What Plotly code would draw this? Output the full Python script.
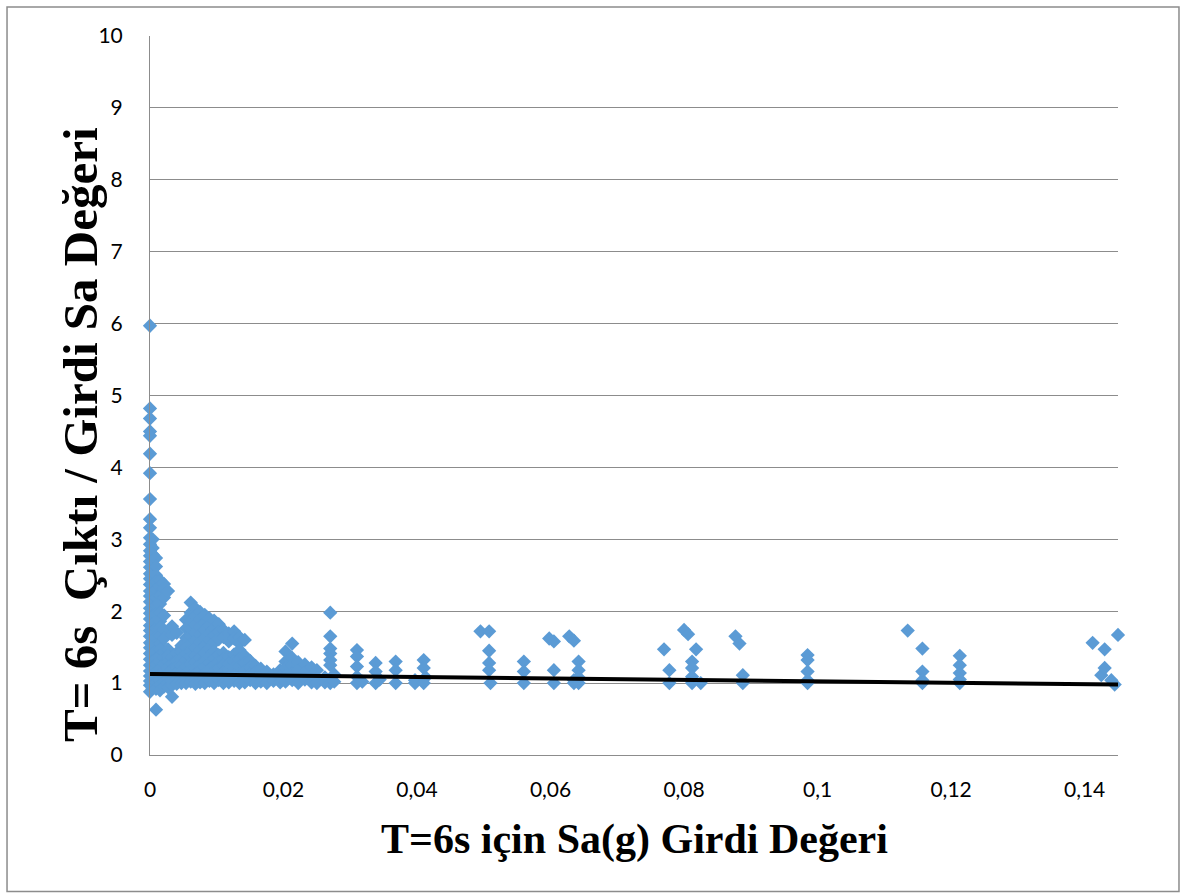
import plotly.graph_objects as go

# --- Sa ratio readings grouped by input Sa (g) ---------------------------
# each entry: (input Sa value, list of output/input ratios at that input)
cluster_origin = [
    (0.0000, [5.97, 4.82, 4.68, 4.50, 4.44, 4.19, 3.92, 3.56, 3.28, 3.16, 3.02, 2.93,
              2.84, 2.77, 2.69, 2.61, 2.52, 2.45, 2.37, 2.28, 2.21, 2.13, 2.04, 1.97,
              1.89, 1.80, 1.73, 1.65, 1.56, 1.49, 1.41, 1.33, 1.25, 1.17, 1.10, 1.03,
              0.97, 0.88]),
    (0.0004, [3.00, 2.88, 2.79, 2.70, 2.58, 2.47, 2.36, 2.25, 2.14, 2.02, 1.93, 1.82,
              1.71, 1.62, 1.51, 1.40, 1.31, 1.22, 1.13, 1.05, 0.99, 0.93]),
    (0.0009, [2.74, 2.62, 2.50, 2.41, 2.30, 2.19, 2.08, 1.96, 1.85, 1.76, 1.64, 1.53,
              1.45, 1.34, 1.26, 1.16, 1.08, 1.01, 0.92, 0.63]),
    (0.0015, [2.43, 2.35, 2.22, 2.10, 1.98, 1.86, 1.77, 1.66, 1.55, 1.47, 1.38, 1.29,
              1.20, 1.11, 1.04, 0.98, 0.90]),
    (0.0021, [2.38, 2.31, 2.19, 1.94, 1.74, 1.62, 1.43, 1.35, 1.27, 1.18, 1.09, 1.02, 0.95]),
    (0.0027, [2.28, 1.47, 1.38, 1.30, 1.21, 1.13, 1.06, 1.00, 0.94]),
    (0.0033, [1.79, 1.67, 1.36, 1.27, 1.19, 1.10, 1.03, 0.97, 0.81]),
    (0.0040, [1.70, 1.42, 1.31, 1.22, 1.14, 1.06, 0.99]),
    (0.0047, [1.52, 1.44, 1.33, 1.24, 1.15, 1.07, 1.00]),
]

cluster_low = [
    (0.0054, [1.88, 1.76, 1.63, 1.50, 1.41, 1.32, 1.23, 1.14, 1.06, 1.00]),
    (0.0061, [2.12, 1.98, 1.87, 1.75, 1.66, 1.55, 1.45, 1.36, 1.27, 1.18, 1.10, 1.02]),
    (0.0068, [2.04, 1.93, 1.81, 1.70, 1.59, 1.49, 1.38, 1.29, 1.21, 1.12, 1.04, 0.99]),
    (0.0075, [1.99, 1.89, 1.78, 1.68, 1.57, 1.46, 1.35, 1.26, 1.17, 1.08, 1.01]),
    (0.0082, [1.95, 1.84, 1.74, 1.63, 1.52, 1.42, 1.31, 1.22, 1.13, 1.05, 1.00]),
    (0.0089, [1.90, 1.80, 1.69, 1.60, 1.48, 1.37, 1.28, 1.19, 1.10, 1.03]),
    (0.0096, [1.87, 1.76, 1.66, 1.56, 1.44, 1.34, 1.24, 1.16, 1.07, 1.00]),
    (0.0103, [1.82, 1.71, 1.61, 1.39, 1.30, 1.21, 1.12, 1.04]),
    (0.0110, [1.74, 1.64, 1.42, 1.33, 1.25, 1.15, 1.06, 1.00]),
    (0.0118, [1.69, 1.58, 1.36, 1.27, 1.18, 1.09, 1.01]),
    (0.0126, [1.72, 1.62, 1.40, 1.30, 1.21, 1.11, 1.03]),
    (0.0134, [1.64, 1.55, 1.46, 1.33, 1.23, 1.13, 1.05, 1.00]),
    (0.0142, [1.60, 1.38, 1.28, 1.17, 1.08, 1.01]),
    (0.0150, [1.31, 1.22, 1.12, 1.04]),
    (0.0158, [1.24, 1.15, 1.07, 1.00]),
    (0.0166, [1.20, 1.10, 1.02]),
    (0.0175, [1.16, 1.06, 1.00]),
    (0.0185, [1.12, 1.03]),
    (0.0195, [1.18, 1.09, 1.01]),
    (0.0203, [1.44, 1.30, 1.21, 1.10, 1.02]),
    (0.0213, [1.55, 1.35, 1.25, 1.13, 1.04]),
    (0.0222, [1.29, 1.18, 1.07, 1.00]),
    (0.0232, [1.26, 1.15, 1.05]),
    (0.0242, [1.22, 1.10, 1.01]),
    (0.0250, [1.18, 1.06, 1.00]),
    (0.0262, [1.08, 1.01]),
    (0.0270, [1.98, 1.65, 1.48, 1.41, 1.32, 1.25, 1.04, 1.00]),
    (0.0276, [1.12, 1.02]),
]

cluster_high = [
    (0.0310, [1.46, 1.37, 1.23, 1.09, 1.00]),
    (0.0318, [1.02]),
    (0.0338, [1.28, 1.16, 1.00]),
    (0.0344, [1.05]),
    (0.0368, [1.30, 1.18, 1.00]),
    (0.0397, [1.04, 1.00]),
    (0.0410, [1.32, 1.21, 1.00]),
    (0.0413, [1.08]),
    (0.0495, [1.72]),
    (0.0508, [1.72, 1.45, 1.28, 1.18]),
    (0.0510, [1.00]),
    (0.0560, [1.30, 1.16, 1.00]),
    (0.0598, [1.62]),
    (0.0605, [1.58, 1.18, 1.00]),
    (0.0628, [1.65]),
    (0.0635, [1.59, 1.04, 1.00]),
    (0.0642, [1.30, 1.18, 1.08, 1.00]),
    (0.0770, [1.47]),
    (0.0778, [1.18, 1.00]),
    (0.0800, [1.74]),
    (0.0806, [1.68]),
    (0.0812, [1.30, 1.21, 1.09, 1.00]),
    (0.0818, [1.47]),
    (0.0825, [1.00]),
    (0.0877, [1.65]),
    (0.0883, [1.55]),
    (0.0888, [1.11, 1.00]),
    (0.0985, [1.39, 1.32, 1.16, 1.04, 1.00]),
    (0.1135, [1.73]),
    (0.1157, [1.48, 1.16, 1.04, 1.00]),
    (0.1213, [1.38, 1.25, 1.14, 1.05, 1.00]),
    (0.1412, [1.56]),
    (0.1425, [1.11]),
    (0.1430, [1.47, 1.21]),
    (0.1440, [1.04]),
    (0.1445, [0.98]),
    (0.1450, [1.67]),
]

# linear trend line end points
trend_x = [0.0, 0.145]
trend_y = [1.125, 0.98]

# axis ticks
x_ticks = [0, 0.02, 0.04, 0.06, 0.08, 0.1, 0.12, 0.14]
y_ticks = list(range(0, 11))

sa_input, sa_ratio = [], []
for group in (cluster_origin, cluster_low, cluster_high):
    for sa, ratios in group:
        for r in ratios:
            sa_input.append(sa)
            sa_ratio.append(r)

fig = go.Figure()
fig.add_trace(go.Scatter(
    x=sa_input, y=sa_ratio, mode="markers",
    marker=dict(symbol="diamond", size=11, color="#5B9BD5", line=dict(width=0)),
    cliponaxis=False, showlegend=False, hoverinfo="x+y",
))
fig.add_trace(go.Scatter(
    x=trend_x, y=trend_y, mode="lines",
    line=dict(color="black", width=4),
    cliponaxis=False, showlegend=False, hoverinfo="skip",
))

tick_font = dict(family="Lato, Carlito, Calibri, sans-serif", size=21, color="black")
serif = "Liberation Serif, Times New Roman, serif"

fig.update_layout(
    width=1182, height=894,
    margin=dict(l=150, r=64, t=36, b=139),
    paper_bgcolor="white", plot_bgcolor="white",
    separators=",.",
    xaxis=dict(
        range=[0, 0.145], tickvals=x_ticks, showgrid=False, zeroline=False,
        showline=True, linecolor="#8C8C8C", linewidth=1,
        tickfont=tick_font, ticks="", ticklabelstandoff=16,
    ),
    yaxis=dict(
        range=[0, 10], tickvals=y_ticks, showgrid=True, gridcolor="#8C8C8C",
        gridwidth=1, zeroline=False, showline=True, linecolor="#8C8C8C",
        linewidth=1, tickfont=tick_font, ticks="", ticklabelstandoff=22,
    ),
    shapes=[dict(
        type="rect", xref="paper", yref="paper",
        x0=-0.1477, x1=1.063, y0=-0.190, y1=1.0403,
        line=dict(color="#8C8C8C", width=1.5), fillcolor="rgba(0,0,0,0)",
        layer="below",
    )],
    annotations=[
        dict(text="<b>T=6s için Sa(g) Girdi Değeri</b>", xref="paper", yref="paper",
             x=0.5, y=-0.118, xanchor="center", yanchor="middle",
             showarrow=False, font=dict(family=serif, size=42, color="black")),
        dict(text="<b>T= 6s&nbsp; Çıktı / Girdi Sa Değeri</b>", xref="paper",
             yref="paper", x=-0.0723, y=0.445, xanchor="center", yanchor="middle",
             textangle=-90, showarrow=False,
             font=dict(family=serif, size=49, color="black")),
    ],
)

fig.write_html("out.html")
